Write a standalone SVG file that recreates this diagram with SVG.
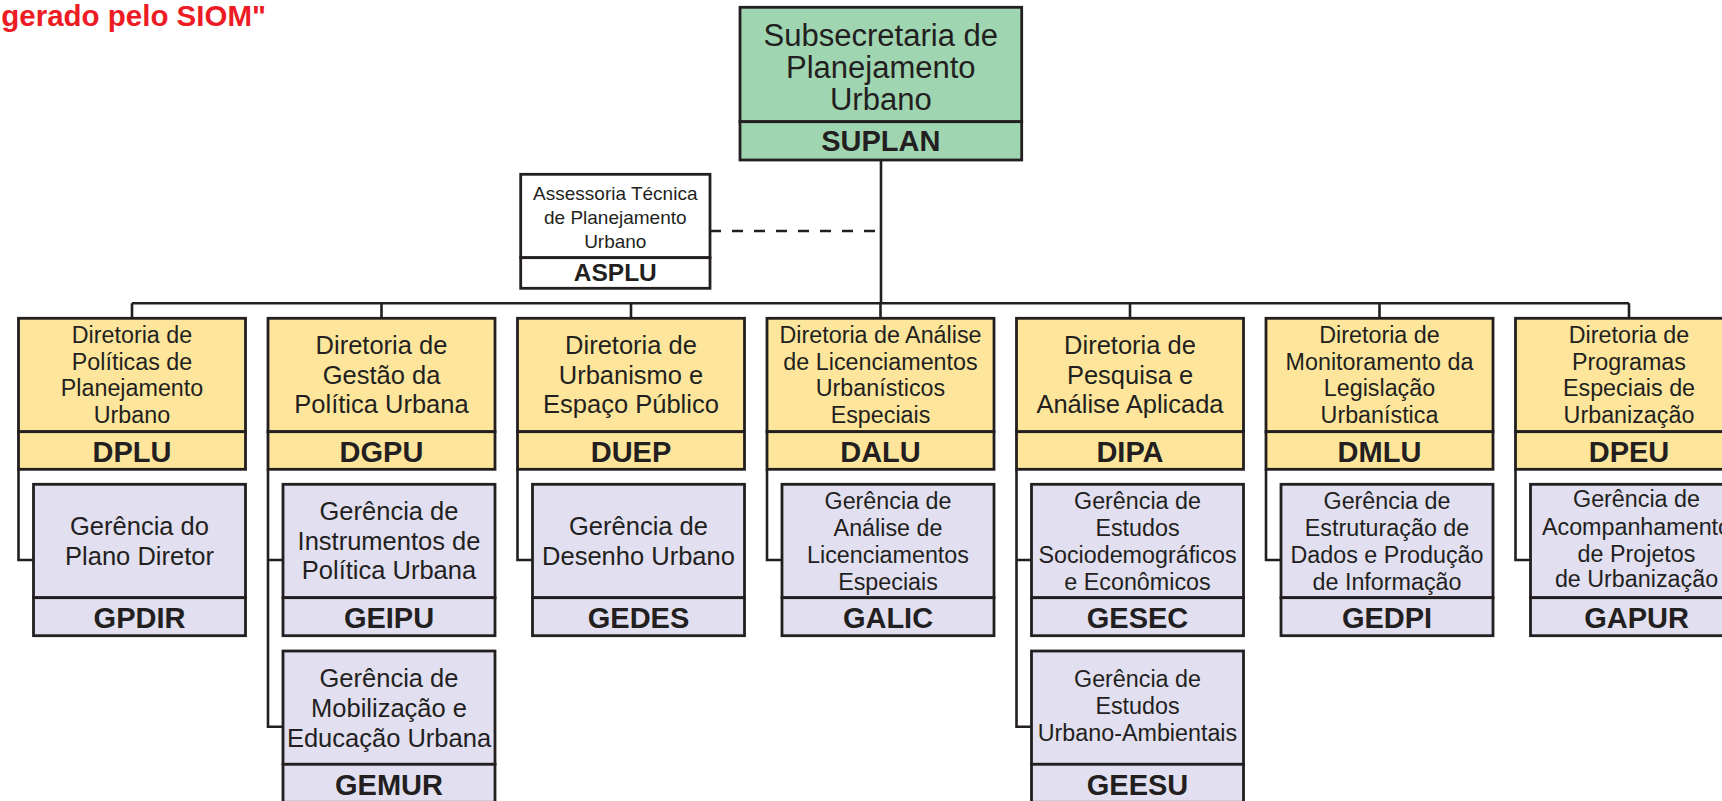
<svg xmlns="http://www.w3.org/2000/svg" width="1722" height="801" viewBox="0 0 1722 801">
<style>
.box{stroke:#231f20;stroke-width:2.8}
.top{fill:#9fd5b1}
.dir{fill:#fde69b}
.ger{fill:#e1dff0}
.wht{fill:#ffffff}
.conn{fill:none;stroke:#231f20;stroke-width:2.6}
.dash{stroke-dasharray:11 11}
text{font-family:"Liberation Sans",Arial,sans-serif;fill:#231f20;text-anchor:middle}
.code{font-weight:bold;font-size:29px}
.t31{font-size:31px}
.t25{font-size:25.5px}
.t23{font-size:23.3px}
.t19{font-size:19px}
.red{font-weight:bold;font-size:29.5px;fill:#ed1c24;text-anchor:end}
</style>
<rect width="1722" height="801" fill="#ffffff"/>
<text class="red" x="266" y="26">gerado pelo SIOM"</text>

<g id="connectors">
<path class="conn" d="M881,160 V303.3 M132,303.3 H1629 M132,303.3 V318.3 M381.5,303.3 V318.3 M631,303.3 V318.3 M880.5,303.3 V318.3 M1130,303.3 V318.3 M1379.5,303.3 V318.3 M1629,303.3 V318.3"/>
<path class="conn dash" d="M710,231 H881"/>
<path class="conn" d="M18.5,469.3 V560 H33.5"/>
<path class="conn" d="M268,469.3 V726.7 H283 M268,560 H283"/>
<path class="conn" d="M517.5,469.3 V560 H532.5"/>
<path class="conn" d="M767,469.3 V560 H782"/>
<path class="conn" d="M1016.5,469.3 V726.7 H1031.5 M1016.5,560 H1031.5"/>
<path class="conn" d="M1266,469.3 V560 H1281"/>
<path class="conn" d="M1515.5,469.3 V560 H1530.5"/>
</g>

<g id="SUPLAN">
<rect class="box top" x="740" y="7.3" width="281.7" height="114.4"/>
<rect class="box top" x="740" y="121.7" width="281.7" height="38.3"/>
<text class="t31" x="880.8" y="45.5">Subsecretaria de</text>
<text class="t31" x="880.8" y="77.5">Planejamento</text>
<text class="t31" x="880.8" y="110">Urbano</text>
<text class="code" x="880.8" y="150.5">SUPLAN</text>
</g>

<g id="ASPLU">
<rect class="box wht" x="520.7" y="174.3" width="189.3" height="83.4"/>
<rect class="box wht" x="520.7" y="257.7" width="189.3" height="30.6"/>
<text class="t19" x="615.3" y="200">Assessoria Técnica</text>
<text class="t19" x="615.3" y="224.3">de Planejamento</text>
<text class="t19" x="615.3" y="248.3">Urbano</text>
<text class="code" style="font-size:24.5px" x="615.3" y="281">ASPLU</text>
</g>

<g id="DPLU">
<rect class="box dir" x="18.5" y="318.3" width="227" height="113.4"/>
<rect class="box dir" x="18.5" y="431.7" width="227" height="37.6"/>
<text class="t23" x="132" y="342.7">Diretoria de</text>
<text class="t23" x="132" y="369.5">Políticas de</text>
<text class="t23" x="132" y="396.3">Planejamento</text>
<text class="t23" x="132" y="423.1">Urbano</text>
<text class="code" x="132" y="461.5">DPLU</text>
</g>

<g id="DGPU">
<rect class="box dir" x="268" y="318.3" width="227" height="113.4"/>
<rect class="box dir" x="268" y="431.7" width="227" height="37.6"/>
<text class="t25" x="381.5" y="354.3">Diretoria de</text>
<text class="t25" x="381.5" y="383.8">Gestão da</text>
<text class="t25" x="381.5" y="413.3">Política Urbana</text>
<text class="code" x="381.5" y="461.5">DGPU</text>
</g>

<g id="DUEP">
<rect class="box dir" x="517.5" y="318.3" width="227" height="113.4"/>
<rect class="box dir" x="517.5" y="431.7" width="227" height="37.6"/>
<text class="t25" x="631" y="354.3">Diretoria de</text>
<text class="t25" x="631" y="383.8">Urbanismo e</text>
<text class="t25" x="631" y="413.3">Espaço Público</text>
<text class="code" x="631" y="461.5">DUEP</text>
</g>

<g id="DALU">
<rect class="box dir" x="767" y="318.3" width="227" height="113.4"/>
<rect class="box dir" x="767" y="431.7" width="227" height="37.6"/>
<text class="t23" x="880.5" y="342.7">Diretoria de Análise</text>
<text class="t23" x="880.5" y="369.5">de Licenciamentos</text>
<text class="t23" x="880.5" y="396.3">Urbanísticos</text>
<text class="t23" x="880.5" y="423.1">Especiais</text>
<text class="code" x="880.5" y="461.5">DALU</text>
</g>

<g id="DIPA">
<rect class="box dir" x="1016.5" y="318.3" width="227" height="113.4"/>
<rect class="box dir" x="1016.5" y="431.7" width="227" height="37.6"/>
<text class="t25" x="1130" y="354.3">Diretoria de</text>
<text class="t25" x="1130" y="383.8">Pesquisa e</text>
<text class="t25" x="1130" y="413.3">Análise Aplicada</text>
<text class="code" x="1130" y="461.5">DIPA</text>
</g>

<g id="DMLU">
<rect class="box dir" x="1266" y="318.3" width="227" height="113.4"/>
<rect class="box dir" x="1266" y="431.7" width="227" height="37.6"/>
<text class="t23" x="1379.5" y="342.7">Diretoria de</text>
<text class="t23" x="1379.5" y="369.5">Monitoramento da</text>
<text class="t23" x="1379.5" y="396.3">Legislação</text>
<text class="t23" x="1379.5" y="423.1">Urbanística</text>
<text class="code" x="1379.5" y="461.5">DMLU</text>
</g>

<g id="DPEU">
<rect class="box dir" x="1515.5" y="318.3" width="227" height="113.4"/>
<rect class="box dir" x="1515.5" y="431.7" width="227" height="37.6"/>
<text class="t23" x="1629" y="342.7">Diretoria de</text>
<text class="t23" x="1629" y="369.5">Programas</text>
<text class="t23" x="1629" y="396.3">Especiais de</text>
<text class="t23" x="1629" y="423.1">Urbanização</text>
<text class="code" x="1629" y="461.5">DPEU</text>
</g>

<g id="GPDIR">
<rect class="box ger" x="33.5" y="484.3" width="212" height="113.4"/>
<rect class="box ger" x="33.5" y="597.7" width="212" height="38"/>
<text class="t25" x="139.5" y="535">Gerência do</text>
<text class="t25" x="139.5" y="565">Plano Diretor</text>
<text class="code" x="139.5" y="628">GPDIR</text>
</g>

<g id="GEIPU">
<rect class="box ger" x="283" y="484.3" width="212" height="113.4"/>
<rect class="box ger" x="283" y="597.7" width="212" height="38"/>
<text class="t25" x="389" y="520">Gerência de</text>
<text class="t25" x="389" y="549.5">Instrumentos de</text>
<text class="t25" x="389" y="579">Política Urbana</text>
<text class="code" x="389" y="628">GEIPU</text>
</g>

<g id="GEMUR">
<rect class="box ger" x="283" y="651" width="212" height="113.3"/>
<rect class="box ger" x="283" y="764.3" width="212" height="38"/>
<text class="t25" x="389" y="686.7">Gerência de</text>
<text class="t25" x="389" y="716.7">Mobilização e</text>
<text class="t25" x="389" y="746.7">Educação Urbana</text>
<text class="code" x="389" y="795">GEMUR</text>
</g>

<g id="GEDES">
<rect class="box ger" x="532.5" y="484.3" width="212" height="113.4"/>
<rect class="box ger" x="532.5" y="597.7" width="212" height="38"/>
<text class="t25" x="638.5" y="535">Gerência de</text>
<text class="t25" x="638.5" y="565">Desenho Urbano</text>
<text class="code" x="638.5" y="628">GEDES</text>
</g>

<g id="GALIC">
<rect class="box ger" x="782" y="484.3" width="212" height="113.4"/>
<rect class="box ger" x="782" y="597.7" width="212" height="38"/>
<text class="t23" x="888" y="509.3">Gerência de</text>
<text class="t23" x="888" y="536.2">Análise de</text>
<text class="t23" x="888" y="563">Licenciamentos</text>
<text class="t23" x="888" y="589.8">Especiais</text>
<text class="code" x="888" y="628">GALIC</text>
</g>

<g id="GESEC">
<rect class="box ger" x="1031.5" y="484.3" width="212" height="113.4"/>
<rect class="box ger" x="1031.5" y="597.7" width="212" height="38"/>
<text class="t23" x="1137.5" y="509.3">Gerência de</text>
<text class="t23" x="1137.5" y="536.2">Estudos</text>
<text class="t23" x="1137.5" y="563">Sociodemográficos</text>
<text class="t23" x="1137.5" y="589.8">e Econômicos</text>
<text class="code" x="1137.5" y="628">GESEC</text>
</g>

<g id="GEESU">
<rect class="box ger" x="1031.5" y="651" width="212" height="113.3"/>
<rect class="box ger" x="1031.5" y="764.3" width="212" height="38"/>
<text class="t23" x="1137.5" y="687">Gerência de</text>
<text class="t23" x="1137.5" y="714">Estudos</text>
<text class="t23" x="1137.5" y="741">Urbano-Ambientais</text>
<text class="code" x="1137.5" y="795">GEESU</text>
</g>

<g id="GEDPI">
<rect class="box ger" x="1281" y="484.3" width="212" height="113.4"/>
<rect class="box ger" x="1281" y="597.7" width="212" height="38"/>
<text class="t23" x="1387" y="509.3">Gerência de</text>
<text class="t23" x="1387" y="536.2">Estruturação de</text>
<text class="t23" x="1387" y="563">Dados e Produção</text>
<text class="t23" x="1387" y="589.8">de Informação</text>
<text class="code" x="1387" y="628">GEDPI</text>
</g>

<g id="GAPUR">
<rect class="box ger" x="1530.5" y="484.3" width="212" height="113.4"/>
<rect class="box ger" x="1530.5" y="597.7" width="212" height="38"/>
<text class="t23" x="1636.5" y="507.3">Gerência de</text>
<text class="t23" x="1636.5" y="535">Acompanhamento</text>
<text class="t23" x="1636.5" y="561.7">de Projetos</text>
<text class="t23" x="1636.5" y="586.7">de Urbanização</text>
<text class="code" x="1636.5" y="628">GAPUR</text>
</g>
</svg>
